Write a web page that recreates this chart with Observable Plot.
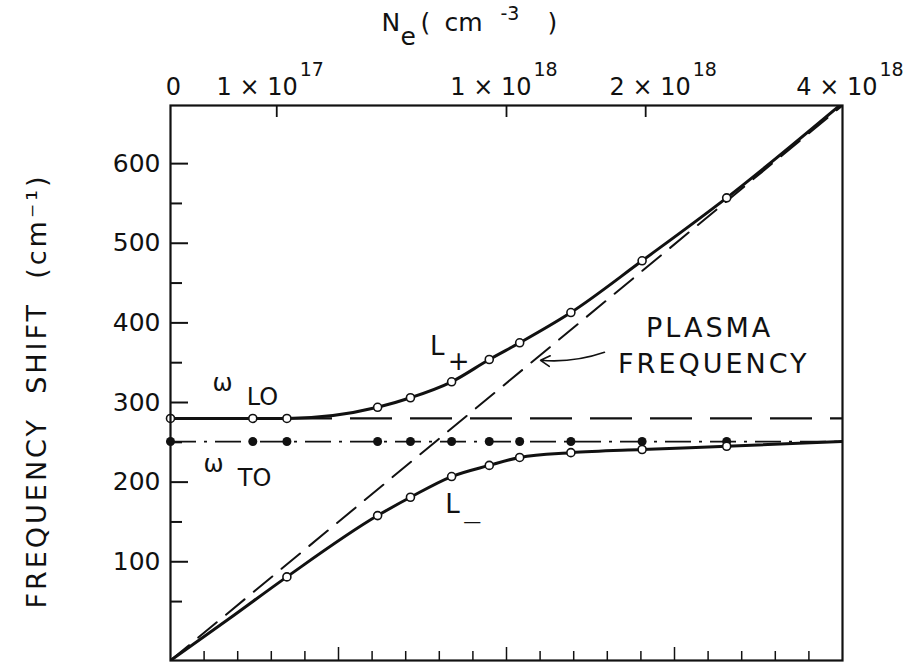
<!DOCTYPE html>
<html><head><meta charset="utf-8">
<script src="https://cdn.jsdelivr.net/npm/d3@7"></script>
<script src="https://cdn.jsdelivr.net/npm/@observablehq/plot@0.6"></script>
<style>
body{margin:0;background:#fff;}
</style></head><body><div id="chart"></div>
<script>
// ---- data (electron density N_e in cm^-3, frequency shift in cm^-1) ----
const neMeasured = [0, 6.0e16, 1.2e17, 3.8e17, 5.1e17, 7.0e17, 9.0e17, 1.08e18, 1.42e18, 1.97e18, 2.74e18];
const lPlusMeasured = [280, 280, 280, 294, 306, 326, 354, 375, 413, 478, 557];
const lMinusNe = [1.2e17, 3.8e17, 5.1e17, 7.0e17, 9.0e17, 1.08e18, 1.42e18, 1.97e18, 2.74e18];
const lMinusMeasured = [81, 158, 181, 207, 221, 231, 237, 241, 245];
const omegaTO = 251;
const omegaLO = 280;
const lPlusCurveNe = [0, 6.0e16, 1.2e17, 3.8e17, 5.1e17, 7.0e17, 9.0e17, 1.08e18, 1.42e18, 1.97e18, 2.74e18, 4.0e18];
const lPlusCurveW  = [280, 280, 280, 294, 306, 326, 354, 375, 413, 478, 557, 676];
const lMinusCurveNe = [0, 3.0e16, 1.2e17, 3.8e17, 5.1e17, 7.0e17, 9.0e17, 1.08e18, 1.42e18, 1.97e18, 2.74e18, 4.0e18];
const lMinusCurveW  = [-24, 28, 81, 158, 181, 207, 221, 231, 237, 241, 245, 251];
const plasmaNe = [0, 4.0e18];
const plasmaW = [-24, 673];
const topTickNe = [0, 1e17, 1e18, 2e18, 4e18];
const topTickBase = ["0", "1 × 10", "1 × 10", "2 × 10", "4 × 10"];
const topTickExp = ["", "17", "18", "18", "18"];
const leftMajor = [100, 200, 300, 400, 500, 600];
const leftMinor = [50, 150, 250, 350, 450, 550];
const bottomTickSteps = [1,2,3,4,5,6,7,8,9,10,11,12,13,14,15,16,17,18,19];

// ---- layout ----
const W = 919, H = 668, mL = 170, mR = 77, mT = 105, mB = 8;
const fw = W - mL - mR, fh = H - mT - mB;
const FONT = "DejaVu Sans";
const INK = "#111";
const topLabelShift = [3, 21, 25, 45, 35];

const measured = neMeasured.map((ne, i) => ({ne, w: lPlusMeasured[i]}));
const lMinusPts = lMinusNe.map((ne, i) => ({ne, w: lMinusMeasured[i]}));
const toPts = neMeasured.map(ne => ({ne, w: omegaTO}));
const lPlusCurve = lPlusCurveNe.map((ne, i) => ({ne, w: lPlusCurveW[i]}));
const lMinusCurve = lMinusCurveNe.map((ne, i) => ({ne, w: lMinusCurveW[i]}));
const plasma = plasmaNe.map((ne, i) => ({ne, w: plasmaW[i]}));
const bottomTicks = bottomTickSteps.map(k => ({ne: 4e18 * (k / 20) ** 2, major: k % 5 === 0}));

const txt = (s, o) => Plot.text([s], {fontFamily: FONT, fill: INK, lineAnchor: "middle", ...o});

const topLabelMarks = [];
topTickNe.forEach((ne, i) => {
  if (!topTickExp[i]) {
    topLabelMarks.push(Plot.text([ne], {x: d => d, frameAnchor: "top", lineAnchor: "middle", textAnchor: "middle", dx: topLabelShift[i], dy: -18, text: () => topTickBase[i], fontSize: 24, fontFamily: FONT, fill: INK}));
  } else {
    topLabelMarks.push(Plot.text([ne], {x: d => d, frameAnchor: "top", lineAnchor: "middle", textAnchor: "end", dx: topLabelShift[i], dy: -18, text: () => topTickBase[i], fontSize: 24, fontFamily: FONT, fill: INK}));
    topLabelMarks.push(Plot.text([ne], {x: d => d, frameAnchor: "top", lineAnchor: "middle", textAnchor: "start", dx: topLabelShift[i] + 2, dy: -36, text: () => topTickExp[i], fontSize: 19, fontFamily: FONT, fill: INK}));
  }
});

const chart = Plot.plot({
  width: W, height: H,
  marginLeft: mL, marginRight: mR, marginTop: mT, marginBottom: mB,
  x: {type: "sqrt", domain: [0, 4e18], axis: null},
  y: {domain: [-24, 673], axis: null},
  style: {background: "#fff", color: INK, fontFamily: FONT},
  marks: [
    // reference lines
    Plot.ruleY([omegaLO], {stroke: INK, strokeWidth: 2.2, strokeDasharray: "42,18"}),
    Plot.ruleY([omegaTO], {stroke: INK, strokeWidth: 1.8, strokeDasharray: "26,8,3,8"}),
    Plot.line(plasma, {x: "ne", y: "w", stroke: INK, strokeWidth: 2, strokeDasharray: "24,12", clip: true}),
    // coupled-mode curves
    Plot.line(lPlusCurve, {x: "ne", y: "w", stroke: INK, strokeWidth: 3, curve: "monotone-x", clip: true}),
    Plot.line(lMinusCurve, {x: "ne", y: "w", stroke: INK, strokeWidth: 3, curve: "monotone-x", clip: true}),
    // data points
    Plot.dot(toPts, {x: "ne", y: "w", r: 4.5, fill: INK, stroke: "none"}),
    Plot.dot(measured, {x: "ne", y: "w", r: 4, fill: "#fff", stroke: INK, strokeWidth: 1.6}),
    Plot.dot(lMinusPts, {x: "ne", y: "w", r: 4, fill: "#fff", stroke: INK, strokeWidth: 1.6}),
    // frame and inward ticks
    Plot.frame({stroke: INK, strokeWidth: 2.2}),
    Plot.ruleY(leftMajor, {y: d => d, insetRight: fw - 18, stroke: INK, strokeWidth: 2}),
    Plot.ruleY(leftMinor, {y: d => d, insetRight: fw - 12, stroke: INK, strokeWidth: 2}),
    Plot.ruleX(bottomTicks, {x: "ne", filter: d => !d.major, insetTop: fh - 9, stroke: INK, strokeWidth: 1.5}),
    Plot.ruleX(bottomTicks, {x: "ne", filter: d => d.major, insetTop: fh - 13, stroke: INK, strokeWidth: 1.5}),
    Plot.ruleX(topTickNe.slice(1, 4), {x: d => d, insetBottom: fh - 12, stroke: INK, strokeWidth: 1.8}),
    // axis labels
    Plot.text(leftMajor, {y: d => d, frameAnchor: "left", dx: -10, textAnchor: "end", lineAnchor: "middle", text: d => String(d), fontSize: 25, fontFamily: FONT, fill: INK}),
    ...topLabelMarks,
    txt("FREQUENCY  SHIFT  (cm⁻¹)", {frameAnchor: "left", textAnchor: "middle", dx: -133, dy: 8, rotate: -90, fontSize: 27}),
    txt("N", {frameAnchor: "top-left", textAnchor: "start", dx: 211, dy: -83, fontSize: 25}),
    txt("e", {frameAnchor: "top-left", textAnchor: "start", dx: 230, dy: -69, fontSize: 25}),
    txt("(", {frameAnchor: "top-left", textAnchor: "start", dx: 250, dy: -83, fontSize: 25}),
    txt("cm", {frameAnchor: "top-left", textAnchor: "start", dx: 274, dy: -83, fontSize: 25}),
    txt("-3", {frameAnchor: "top-left", textAnchor: "start", dx: 330, dy: -92, fontSize: 19}),
    txt(")", {frameAnchor: "top-left", textAnchor: "start", dx: 377, dy: -83, fontSize: 25}),
    // annotations
    txt("ω", {x: 2.4e16, y: 324, fontSize: 24}),
    txt("LO", {x: 7.5e16, y: 306, fontSize: 24}),
    txt("ω", {x: 1.64e16, y: 223, fontSize: 24}),
    txt("TO", {x: 6.25e16, y: 205, fontSize: 24}),
    txt("L", {x: 6.3e17, y: 370, fontSize: 26}),
    txt("+", {x: 7.35e17, y: 351, fontSize: 26}),
    txt("L", {x: 7.04e17, y: 172, fontSize: 26}),
    txt("—", {x: 8.07e17, y: 151, fontSize: 18}),
    txt("PLASMA", {x: 2.575e18, y: 393, fontSize: 27}),
    txt("FREQUENCY", {x: 2.615e18, y: 348, fontSize: 27}),
    Plot.arrow([0], {x1: 1.668e18, y1: 363, x2: 1.213e18, y2: 353, bend: 12, stroke: INK, strokeWidth: 1.6, headLength: 10})
  ]
});
chart.querySelectorAll("text").forEach(t => {
  const s = t.textContent;
  if (s === "PLASMA" || s === "FREQUENCY") t.setAttribute("letter-spacing", "3");
  else if (s.startsWith("FREQUENCY ")) t.setAttribute("letter-spacing", "3");
});
document.getElementById("chart").appendChild(chart);
</script></body></html>
